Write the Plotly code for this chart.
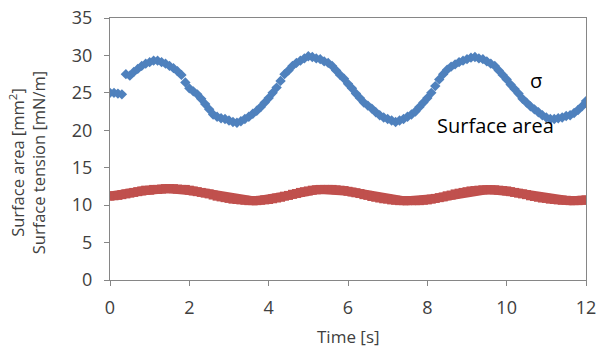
import plotly.graph_objects as go

time_s = [round(i * 0.1, 1) for i in range(121)]

surface_area = [
    25.0, 25.0, 24.9, 24.8, 27.5, 27.3, 27.8, 28.2, 28.6, 28.9,
    29.1, 29.3, 29.3, 29.1, 28.9, 28.6, 28.3, 27.9, 27.4, 26.4,
    25.6, 25.2, 24.8, 24.2, 23.5, 22.8, 22.1, 21.8, 21.6, 21.5,
    21.3, 21.1, 21.0, 21.2, 21.5, 21.8, 22.2, 22.6, 23.1, 23.7,
    24.3, 25.0, 25.7, 26.6, 27.5, 28.0, 28.6, 29.0, 29.3, 29.6,
    29.9, 29.8, 29.6, 29.5, 29.2, 29.0, 28.6, 28.0, 27.4, 26.9,
    26.2, 25.6, 24.9, 24.3, 23.7, 23.3, 22.9, 22.4, 22.0, 21.7,
    21.5, 21.3, 21.1, 21.3, 21.5, 21.8, 22.1, 22.5, 23.1, 23.7,
    24.3, 25.0, 25.9, 26.8, 27.5, 28.1, 28.5, 28.8, 29.1, 29.3,
    29.5, 29.7, 29.8, 29.6, 29.5, 29.2, 28.9, 28.6, 28.0, 27.4,
    26.8, 26.1, 25.5, 24.9, 24.2, 23.7, 23.2, 22.8, 22.4, 22.0,
    21.7, 21.5, 21.5, 21.6, 21.7, 21.9, 22.0, 22.3, 22.7, 23.2,
    23.9,
]

surface_tension = [
    11.2, 11.25, 11.3, 11.4, 11.5, 11.6, 11.7, 11.8, 11.9, 12.0,
    12.0, 12.1, 12.1, 12.15, 12.2, 12.2, 12.2, 12.15, 12.1, 12.1,
    12.0, 11.9, 11.8, 11.7, 11.6, 11.5, 11.35, 11.2, 11.1, 11.0,
    10.9, 10.8, 10.75, 10.7, 10.65, 10.6, 10.6, 10.6, 10.65, 10.7,
    10.75, 10.85, 10.95, 11.05, 11.2, 11.3, 11.45, 11.55, 11.7, 11.8,
    11.9, 12.0, 12.05, 12.1, 12.1, 12.1, 12.1, 12.05, 12.0, 11.95,
    11.85, 11.75, 11.65, 11.55, 11.4, 11.3, 11.15, 11.05, 10.95, 10.85,
    10.8, 10.7, 10.65, 10.6, 10.6, 10.6, 10.6, 10.6, 10.6, 10.65,
    10.7, 10.8, 10.9, 11.0, 11.1, 11.25, 11.35, 11.5, 11.6, 11.7,
    11.8, 11.9, 11.95, 12.0, 12.05, 12.05, 12.05, 12.05, 12.0, 11.95,
    11.9, 11.8, 11.7, 11.6, 11.5, 11.4, 11.25, 11.15, 11.05, 10.95,
    10.9, 10.8, 10.75, 10.7, 10.65, 10.65, 10.6, 10.6, 10.6, 10.65,
    10.7,
]

x_ticks = [0, 2, 4, 6, 8, 10, 12]
y_ticks = [0, 5, 10, 15, 20, 25, 30, 35]

FONT = "Open Sans"
AXIS_COLOR = "#868686"
TEXT_COLOR = "#404040"

fig = go.Figure()
fig.add_trace(go.Scatter(
    x=time_s, y=surface_tension, mode="lines+markers",
    line=dict(color="#C0504D", width=9),
    marker=dict(symbol="square", size=9, color="#C0504D"),
    showlegend=False,
))
fig.add_trace(go.Scatter(
    x=time_s, y=surface_area, mode="markers",
    marker=dict(symbol="diamond", size=8, color="#4F81BD"),
    showlegend=False,
))

fig.add_annotation(x=10.75, y=26.6, text="σ", showarrow=False,
                   font=dict(family=FONT, size=20, color="black"))
fig.add_annotation(x=9.72, y=20.6, text="Surface area", showarrow=False,
                   font=dict(family=FONT, size=20, color="black"))
fig.add_annotation(
    xref="paper", yref="paper", x=-0.174, y=0.45, xanchor="center", yanchor="middle",
    text="Surface area [mm<sup>2</sup>]<br>Surface tension [mN/m]",
    textangle=-90, showarrow=False,
    font=dict(family=FONT, size=16.5, color=TEXT_COLOR),
)
fig.add_annotation(
    xref="paper", yref="paper", x=0.5, y=-0.214, xanchor="center", yanchor="middle",
    text="Time [s]", showarrow=False,
    font=dict(family=FONT, size=17, color=TEXT_COLOR),
)

fig.update_layout(
    width=597, height=347,
    margin=dict(l=110, r=11, t=18, b=67, autoexpand=False),
    paper_bgcolor="white", plot_bgcolor="white",
    font=dict(family=FONT, size=14, color=TEXT_COLOR),
    xaxis=dict(
        range=[0, 12], tickvals=x_ticks, showgrid=False, zeroline=False,
        showline=True, linecolor=AXIS_COLOR, linewidth=1, mirror=True,
        ticks="outside", tickcolor=AXIS_COLOR, ticklen=5,
        ticklabelstandoff=6, automargin=False,
        tickfont=dict(size=18, color=TEXT_COLOR),
    ),
    yaxis=dict(
        range=[0, 35], tickvals=y_ticks, showgrid=False, zeroline=False,
        showline=True, linecolor=AXIS_COLOR, linewidth=1, mirror=True,
        ticks="outside", tickcolor=AXIS_COLOR, ticklen=5,
        ticklabelstandoff=8, automargin=False,
        tickfont=dict(size=18, color=TEXT_COLOR),
    ),
)

fig.write_html("out.html", config={"displayModeBar": False},
               post_script="document.body.style.margin='0';")
